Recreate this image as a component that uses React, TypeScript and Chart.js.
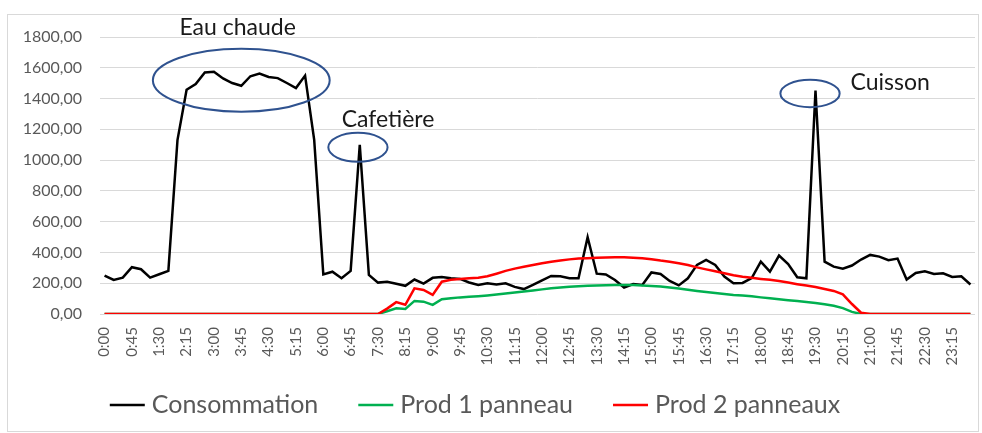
import React, { useEffect, useRef } from "react";
import { Chart, registerables } from "chart.js";

Chart.register(...registerables);

const timeLabels = [
  "0:00", "0:15", "0:30", "0:45", "1:00", "1:15", "1:30", "1:45",
  "2:00", "2:15", "2:30", "2:45", "3:00", "3:15", "3:30", "3:45",
  "4:00", "4:15", "4:30", "4:45", "5:00", "5:15", "5:30", "5:45",
  "6:00", "6:15", "6:30", "6:45", "7:00", "7:15", "7:30", "7:45",
  "8:00", "8:15", "8:30", "8:45", "9:00", "9:15", "9:30", "9:45",
  "10:00", "10:15", "10:30", "10:45", "11:00", "11:15", "11:30", "11:45",
  "12:00", "12:15", "12:30", "12:45", "13:00", "13:15", "13:30", "13:45",
  "14:00", "14:15", "14:30", "14:45", "15:00", "15:15", "15:30", "15:45",
  "16:00", "16:15", "16:30", "16:45", "17:00", "17:15", "17:30", "17:45",
  "18:00", "18:15", "18:30", "18:45", "19:00", "19:15", "19:30", "19:45",
  "20:00", "20:15", "20:30", "20:45", "21:00", "21:15", "21:30", "21:45",
  "22:00", "22:15", "22:30", "22:45", "23:00", "23:15", "23:30", "23:45",
];

const consommation = [
  250, 221, 236, 304, 291, 236, 258, 280,
  1130, 1457, 1494, 1570, 1574, 1531, 1501, 1483,
  1545, 1562, 1540, 1533, 1501, 1468, 1549, 1132,
  257, 275, 232, 280, 1100, 254, 204, 210,
  196, 183, 224, 198, 235, 241, 232, 228,
  205, 189, 200, 192, 200, 176, 162, 189,
  219, 247, 245, 232, 232, 499, 262, 257,
  221, 172, 195, 189, 270, 260, 215, 186,
  232, 319, 352, 319, 243, 200, 202, 234,
  340, 275, 380, 325, 239, 232, 1452, 340,
  308, 294, 315, 354, 384, 373, 350, 360,
  224, 267, 278, 260, 265, 241, 245, 192,
];

const prod1Panneau = [
  0, 0, 0, 0, 0, 0, 0, 0,
  0, 0, 0, 0, 0, 0, 0, 0,
  0, 0, 0, 0, 0, 0, 0, 0,
  0, 0, 0, 0, 0, 0, 0, 18,
  37, 33, 85, 80, 59, 96, 102, 108,
  112, 116, 121, 127, 133, 139, 146, 153,
  160, 167, 172, 177, 180, 183, 185, 187,
  188, 189, 188, 185, 182, 178, 172, 165,
  158, 150, 143, 137, 130, 124, 120, 115,
  108, 102, 96, 90, 84, 78, 72, 64,
  54, 38, 14, 0, 0, 0, 0, 0,
  0, 0, 0, 0, 0, 0, 0, 0,
];

const prod2Panneaux = [
  0, 0, 0, 0, 0, 0, 0, 0,
  0, 0, 0, 0, 0, 0, 0, 0,
  0, 0, 0, 0, 0, 0, 0, 0,
  0, 0, 0, 0, 0, 0, 0, 35,
  77, 60, 167, 156, 124, 210, 222, 228,
  232, 236, 245, 262, 280, 295, 307, 319,
  330, 340, 348, 355, 360, 362, 365, 367,
  368, 369, 366, 362, 356, 347, 340, 330,
  318, 303, 290, 278, 265, 252, 242, 235,
  228, 222, 214, 204, 194, 185, 175, 162,
  150, 128, 65, 8, 0, 0, 0, 0,
  0, 0, 0, 0, 0, 0, 0, 0,
];

const seriesNames = ["Consommation", "Prod 1 panneau", "Prod 2 panneaux"];
const seriesColors = ["#000000", "#00B050", "#FF0000"];

const yMin = 0;
const yMax = 1800;
const yStep = 200;

// Callouts in data units: ellipse centre (index, value), radii, label anchor.
const calloutTexts = ["Eau chaude", "Cafetière", "Cuisson"];
const calloutCenterX = [15.0, 27.8, 77.4];
const calloutCenterY = [1519, 1083, 1433];
const calloutRadiusX = [9.7, 3.25, 3.25];
const calloutRadiusY = [205, 94, 89];
const calloutTextX = [14.6, 31.1, 86.2];
const calloutTextY = [1861, 1262, 1503];

const frFormat = (v: number) => v.toFixed(2).replace(".", ",");

const backgroundPlugin = {
  id: "bgFrame",
  beforeDraw(chart: any) {
    const ctx = chart.ctx;
    ctx.save();
    ctx.fillStyle = "#ffffff";
    ctx.fillRect(0, 0, chart.width, chart.height);
    ctx.strokeStyle = "#d9d9d9";
    ctx.lineWidth = 1;
    ctx.strokeRect(7.5, 14.5, chart.width - 11, chart.height - 16);
    ctx.restore();
  },
};

const calloutPlugin = {
  id: "callouts",
  afterDraw(chart: any) {
    const ctx = chart.ctx;
    const xs = chart.scales.x;
    const ys = chart.scales.y;
    ctx.save();
    for (let k = 0; k < calloutTexts.length; k++) {
      const cx = xs.getPixelForValue(calloutCenterX[k]);
      const cy = ys.getPixelForValue(calloutCenterY[k]);
      const rx = Math.abs(xs.getPixelForValue(calloutCenterX[k] + calloutRadiusX[k]) - cx);
      const ry = Math.abs(ys.getPixelForValue(calloutCenterY[k] + calloutRadiusY[k]) - cy);
      ctx.beginPath();
      ctx.ellipse(cx, cy, rx, ry, 0, 0, Math.PI * 2);
      ctx.strokeStyle = "#2F528F";
      ctx.lineWidth = 2;
      ctx.stroke();
      const tx = xs.getPixelForValue(calloutTextX[k]);
      const ty = ys.getPixelForValue(calloutTextY[k]);
      ctx.font = "23px Lato";
      ctx.fillStyle = "#1a1a1a";
      ctx.textAlign = "center";
      ctx.textBaseline = "middle";
      ctx.fillText(calloutTexts[k], tx, ty);
    }
    ctx.restore();
  },
};

// Bottom legend drawn from the chart's own datasets.
const legendPlugin = {
  id: "bottomLegend",
  afterDraw(chart: any) {
    const ctx = chart.ctx;
    const swatch = 35;
    const gapText = 7;
    const gapItem = 40;
    ctx.save();
    ctx.font = "25px Lato";
    const items = chart.data.datasets.map((ds: any) => ({
      text: ds.label,
      color: ds.borderColor,
      w: ctx.measureText(ds.label).width,
    }));
    let total = 0;
    items.forEach((it: any, i: number) => {
      total += swatch + gapText + it.w + (i < items.length - 1 ? gapItem : 0);
    });
    const centerX = 475;
    const y = 405;
    let x = centerX - total / 2;
    items.forEach((it: any) => {
      ctx.beginPath();
      ctx.strokeStyle = it.color;
      ctx.lineWidth = 2.5;
      ctx.moveTo(x, y);
      ctx.lineTo(x + swatch, y);
      ctx.stroke();
      ctx.fillStyle = "#595959";
      ctx.textAlign = "left";
      ctx.textBaseline = "middle";
      ctx.fillText(it.text, x + swatch + gapText, y);
      x += swatch + gapText + it.w + gapItem;
    });
    ctx.restore();
  },
};

export default function App() {
  const canvasRef = useRef<HTMLCanvasElement | null>(null);

  useEffect(() => {
    document.body.style.margin = "0";
    const canvas = canvasRef.current;
    if (!canvas) return;
    const chart = new Chart(canvas, {
      type: "line",
      data: {
        labels: timeLabels,
        datasets: [
          {
            label: seriesNames[0],
            data: consommation,
            borderColor: seriesColors[0],
            backgroundColor: seriesColors[0],
            borderWidth: 2.5,
            pointRadius: 0,
            tension: 0,
            order: 3,
          },
          {
            label: seriesNames[1],
            data: prod1Panneau,
            borderColor: seriesColors[1],
            backgroundColor: seriesColors[1],
            borderWidth: 2.5,
            pointRadius: 0,
            tension: 0,
            order: 2,
          },
          {
            label: seriesNames[2],
            data: prod2Panneaux,
            borderColor: seriesColors[2],
            backgroundColor: seriesColors[2],
            borderWidth: 2.5,
            pointRadius: 0,
            tension: 0,
            order: 1,
          },
        ],
      },
      options: {
        animation: false,
        responsive: true,
        maintainAspectRatio: false,
        layout: { padding: { top: 37, right: 7, left: 0, bottom: 0 } },
        plugins: {
          tooltip: { enabled: false },
          legend: { display: false },
        },
        scales: {
          x: {
            type: "category",
            offset: true,
            grid: { display: false, drawTicks: false },
            border: { display: false },
            ticks: {
              autoSkip: false,
              minRotation: 90,
              maxRotation: 90,
              padding: 13,
              color: "#595959",
              font: { family: "Lato", size: 15 },
              callback: (_v: any, i: number) => (i % 3 === 0 ? timeLabels[i] : ""),
            },
            afterFit: (scale: any) => {
              scale.height = scale.chart.height - 314;
              scale.paddingLeft = 0;
              scale.paddingRight = 0;
            },
          },
          y: {
            min: yMin,
            max: yMax,
            grid: { color: "#d9d9d9", lineWidth: 1, drawTicks: false },
            border: { display: false },
            ticks: {
              stepSize: yStep,
              padding: 18,
              color: "#595959",
              font: { family: "Lato", size: 16 },
              callback: (v: any) => frFormat(Number(v)),
            },
            afterFit: (scale: any) => {
              scale.width = 100;
            },
          },
        },
      },
      plugins: [backgroundPlugin, calloutPlugin, legendPlugin],
    });
    return () => chart.destroy();
  }, []);

  return (
    <div style={{ position: "absolute", left: 0, top: 0, width: 982, height: 433 }}>
      <canvas ref={canvasRef} />
    </div>
  );
}
